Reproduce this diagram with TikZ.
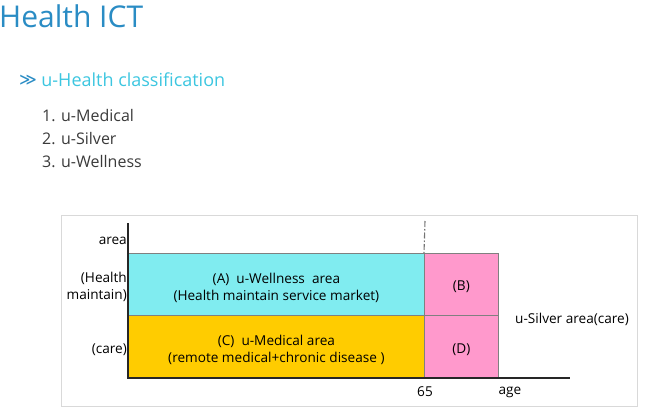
\documentclass[tikz,border=0pt]{standalone}
\usepackage{fontspec}
\setmainfont{Open Sans}
\newfontfamily\symfont{DejaVu Sans}
\usetikzlibrary{positioning}
\definecolor{titleblue}{HTML}{2A8CC4}
\definecolor{subcyan}{HTML}{3CC6E0}
\definecolor{listgray}{HTML}{3A3A3A}
\definecolor{wellcyan}{HTML}{80ECF0}
\definecolor{medyellow}{HTML}{FFCC00}
\definecolor{silverpink}{HTML}{FF99CC}
\definecolor{framegray}{HTML}{D9D9D9}
\begin{document}
\begin{tikzpicture}[x=1pt,y=-1pt,
  area_box/.style={draw=gray, line width=0.8pt, inner sep=0pt, anchor=north west},
  lbl/.style={font=\fontsize{13.6}{17}\selectfont, inner sep=0pt, text=black, align=center},
  item/.style={font=\fontsize{16}{18}\selectfont, text=listgray, inner sep=0pt, anchor=west},
  axis_line/.style={line width=1.2pt, black!85},
]
\useasboundingbox (0,0) rectangle (665,408);
% heading and list
\node[anchor=west, inner sep=0pt, text=titleblue, font=\fontsize{30}{32}\selectfont] (title) at (-1,16) {Health ICT};
\node[anchor=west, inner sep=0pt, text=titleblue, font=\symfont\fontsize{17}{20}\selectfont] (mark) at (19,80) {≫};
\node[right=4pt of mark, inner sep=0pt, text=subcyan, font=\fontsize{18}{20}\selectfont] (sub) {u-Health classification};
\node[item] (med) at (42,116) {1. u-Medical};
\node[item] (silver) at (42,139) {2. u-Silver};
\node[item] (well) at (42,162) {3. u-Wellness};
% chart
\draw[framegray, line width=0.8pt] (61,215) rectangle (637,406);
\node[area_box, fill=wellcyan, minimum width=296pt, minimum height=62pt] (wellness) at (128,253) {};
\node[area_box, fill=medyellow, minimum width=296pt, minimum height=63pt] (medical) at (128,315) {};
\node[area_box, fill=silverpink, minimum width=74pt, minimum height=62pt] (b) at (424,253) {};
\node[area_box, fill=silverpink, minimum width=74pt, minimum height=63pt] (d) at (424,315) {};
\node[lbl] (wellnessText) at ([yshift=-3.5pt]wellness.center) {(A)~~u-Wellness~~area\\(Health maintain service market)};
\node[lbl] (medicalText) at ([yshift=-3.5pt]medical.center) {(C)~~u-Medical area\\(remote medical+chronic disease~)};
\node[lbl] (bText) at ([yshift=-2pt]b.center) {(B)};
\node[lbl] (dText) at ([yshift=-2.5pt]d.center) {(D)};
\coordinate (origin) at (128,378);
\coordinate (ytop) at (128,223);
\coordinate (xend) at (570,378);
\draw[axis_line] (ytop) -- (origin) -- (xend);
\coordinate (dtop) at (425,221);
\draw[black!55, line width=1.1pt, dash pattern=on 6pt off 2pt on 1.5pt off 2pt] (dtop) -- (b.north west);
\node[lbl, anchor=east] (yarea) at (127,241) {area};
\node[lbl, anchor=east, align=right] (yhealth) at (127,287) {(Health\\maintain)};
\node[lbl, anchor=east] (ycare) at (127,350) {(care)};
\node[lbl] (age65) at (425,392) {65};
\node[lbl] (age) at (510,392) {age};
\node[lbl, anchor=west] (silverarea) at (515,319) {u-Silver area(care)};
\end{tikzpicture}
\end{document}
